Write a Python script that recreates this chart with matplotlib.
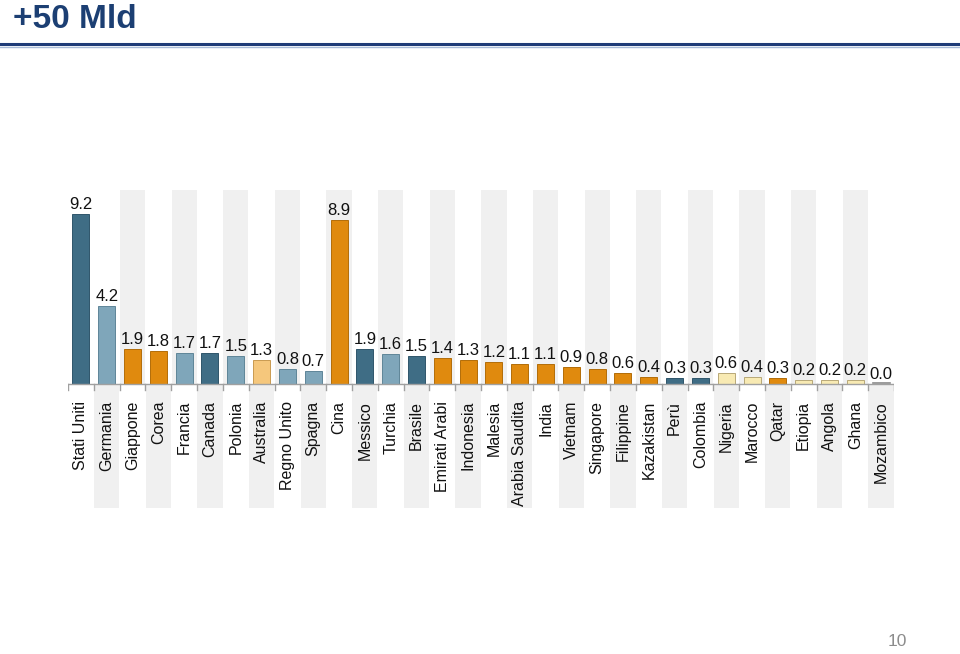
import numpy as np
import matplotlib
matplotlib.use("Agg")
import matplotlib.pyplot as plt
from matplotlib.lines import Line2D

plt.rcParams['font.family'] = ['Liberation Sans', 'DejaVu Sans']

# dati
paesi = ["Stati Uniti", "Germania", "Giappone", "Corea", "Francia", "Canada", "Polonia",
         "Australia", "Regno Unito", "Spagna", "Cina", "Messico", "Turchia", "Brasile",
         "Emirati Arabi", "Indonesia", "Malesia", "Arabia Saudita", "India", "Vietnam",
         "Singapore", "Filippine", "Kazakistan", "Perù", "Colombia", "Nigeria", "Marocco",
         "Qatar", "Etiopia", "Angola", "Ghana", "Mozambico"]
valori = [9.2, 4.2, 1.9, 1.8, 1.7, 1.7, 1.5, 1.3, 0.8, 0.7, 8.9, 1.9, 1.6, 1.5, 1.4, 1.3,
          1.2, 1.1, 1.1, 0.9, 0.8, 0.6, 0.4, 0.3, 0.3, 0.6, 0.4, 0.3, 0.2, 0.2, 0.2, 0.0]
gruppi = ["scuro", "chiaro", "arancio", "arancio", "chiaro", "scuro", "chiaro",
          "arancio_chiaro", "chiaro", "chiaro", "arancio", "scuro", "chiaro", "scuro",
          "arancio", "arancio", "arancio", "arancio", "arancio", "arancio",
          "arancio", "arancio", "arancio", "scuro", "scuro", "giallo", "giallo",
          "arancio", "giallo", "giallo", "giallo", "giallo"]

colori = {"scuro": ("#3f6d85", "#2f566b"),
          "chiaro": ("#7fa6ba", "#5f8598"),
          "arancio": ("#e08a0e", "#b36d08"),
          "arancio_chiaro": ("#f5c77c", "#c99a50"),
          "giallo": ("#f8eab3", "#b8a878")}

W, H = 960, 654
fig = plt.figure(figsize=(W / 100, H / 100), dpi=100)

# titolo e riga
fig.text(13 / W, 1 - 19 / H, "+50 Mld", fontsize=24, fontweight='bold',
         color='#1c3f73', ha='left', va='center')
fig.add_artist(Line2D([0, 1], [1 - 44 / H, 1 - 44 / H], color='#1f3c78', lw=2.2))
fig.add_artist(Line2D([0, 1], [1 - 46.5 / H, 1 - 46.5 / H], color='#a9bcd8', lw=1))
fig.text(897 / W, 1 - 642 / H, "10", fontsize=12.5, color='#8c8c8c', ha='center', va='center')

# area grafico
px_unit = 18.48
y_top, y_base, y_bot = 190, 384, 510
left, right = 68, 894
ax = fig.add_axes([left / W, (H - y_bot) / H, (right - left) / W, (y_bot - y_top) / H])
ax.set_xlim(-0.5, len(paesi) - 0.5)
ax.set_ylim(-(y_bot - y_base) / px_unit, (y_base - y_top) / px_unit)
ax.axis('off')

ymin, ymax = ax.get_ylim()
x = np.arange(len(paesi))

# fasce grigie di sfondo
for i in x:
    if i % 2 == 0 and i > 0:
        ax.add_patch(plt.Rectangle((i - 0.49, 0), 0.98, ymax, color='#f0f0f0', lw=0, zorder=0))
    if i % 2 == 1:
        ax.add_patch(plt.Rectangle((i - 0.49, ymin + 0.1), 0.98, -ymin - 0.15,
                                   color='#f0f0f0', lw=0, zorder=0))

face = [colori[g][0] for g in gruppi]
edge = [colori[g][1] for g in gruppi]
ax.bar(x, valori, width=0.66, color=face, edgecolor=edge, linewidth=0.7, zorder=2)
# barra a zero (Mozambico)
for i, v in enumerate(valori):
    if v == 0:
        ax.plot([i - 0.33, i + 0.33], [0.03, 0.03], color='#8a8a8a', lw=1.2, zorder=3)

# asse e tacche
ax.plot([-0.5, len(paesi) - 0.5], [0, 0], color='#a0a0a0', lw=1, zorder=3)
for b in np.arange(-0.5, len(paesi), 1.0):
    ax.plot([b, b], [0, -6 / px_unit], color='#a0a0a0', lw=1, zorder=3)

for i, v in enumerate(valori):
    ax.text(i, v + 2 / px_unit, f"{v:.1f}", ha='center', va='bottom', fontsize=12,
            color='#111111', zorder=4)
    ax.text(i, -17 / px_unit, paesi[i], rotation=90, ha='center', va='top',
            fontsize=11.5, color='#111111', zorder=4)

fig.savefig("out.png", dpi=100)
